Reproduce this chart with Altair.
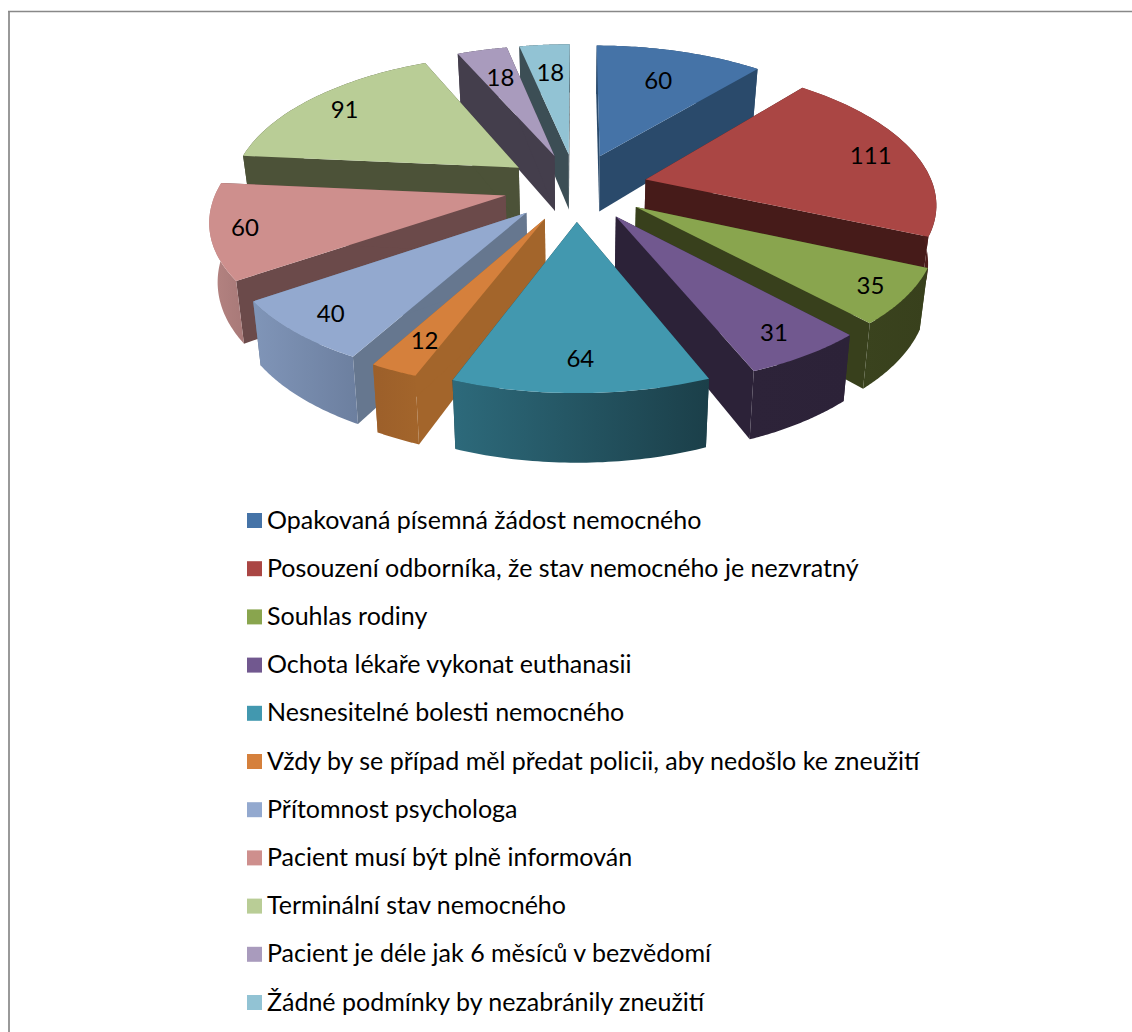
import math
import altair as alt

# Survey answers, clockwise from twelve o'clock
names = [
    "Opakovaná písemná žádost nemocného",
    "Posouzení odborníka, že stav nemocného je nezvratný",
    "Souhlas rodiny",
    "Ochota lékaře vykonat euthanasii",
    "Nesnesitelné bolesti nemocného",
    "Vždy by se případ měl předat policii, aby nedošlo ke zneužití",
    "Přítomnost psychologa",
    "Pacient musí být plně informován",
    "Terminální stav nemocného",
    "Pacient je déle jak 6 měsíců v bezvědomí",
    "Žádné podmínky by nezabránily zneužití",
]
values = [60, 111, 35, 31, 64, 12, 40, 60, 91, 18, 18]

top_colors = ["#4573A7", "#AA4644", "#89A54E", "#71588F", "#4298AF", "#D5803C",
              "#93A9CF", "#CE8F8D", "#B9CD96", "#A99BBD", "#92C3D4"]
wall_colors = ["#2A4A6B", "#461B19", "#38401C", "#2C2238", "#1C3F49", "#A3652B",
               "#66778F", "#6B4A4A", "#4C5238", "#443E4C", "#3C4E55"]
rim_left = ["#2A4A6B", "#7C3331", "#3A431E", "#2D2339", "#2D6A7B", "#9C5F2A",
            "#8095B8", "#B58482", "#4C5238", "#443E4C", "#3C4E55"]
rim_right = ["#2A4A6B", "#4A1C1A", "#38401C", "#2C2238", "#1B3F49", "#A3652B",
             "#6C7F9F", "#A87978", "#4C5238", "#443E4C", "#3C4E55"]

# Slices are painted far to near so nearer ones overlap the ones behind
paint_order = [0, 10, 9, 8, 1, 7, 2, 6, 3, 5, 4]
# How far along its radius each value label sits
label_reach = [0.70, 0.84, 0.88, 0.85, 0.82, 0.82, 0.86, 0.885, 0.836, 0.72, 0.73]

# Perspective view of the exploded pie
CX, CY = 576, 187
AX, AY = 288, 135
PERSP_X = 0.155
PERSP_Y = 0.145
EXPLODE = 0.25
DEPTH = 57
BASE_SHRINK = 0.977


def project(u, v, lower=False):
    x = AX * u / (1 + PERSP_X * v)
    w = 1 + PERSP_Y * v
    y = CY - AY * v / w
    if lower:
        return [CX + x * BASE_SHRINK, y + DEPTH / w]
    return [CX + x, y]


def ring(points):
    return {"type": "Polygon", "coordinates": [points + [points[0]]]}


def feature(geometry, name):
    return {"type": "Feature", "geometry": geometry, "properties": {"name": name}}


def geo_layer(features, **mark):
    return alt.Chart(alt.Data(values=features)).mark_geoshape(strokeWidth=0, **mark)


color_scale = alt.Scale(domain=names, range=top_colors)
legend = alt.Legend(
    title=None,
    orient="none",
    legendX=242,
    legendY=508,
    symbolType="square",
    symbolSize=225,
    symbolStrokeWidth=0,
    symbolOffset=0,
    labelFont="Lato",
    labelFontSize=25,
    labelColor="#000000",
    labelLimit=900,
    labelOffset=0,
    rowPadding=22.2,
    values=names,
)

total = sum(values)
spans = []
start = 0.0
for value in values:
    end = start + value / total * 2 * math.pi
    spans.append((start, end))
    start = end

label_rows = []
for i, (a0, a1) in enumerate(spans):
    mid = (a0 + a1) / 2
    au, av = EXPLODE * math.sin(mid), EXPLODE * math.cos(mid)
    reach = label_reach[i]
    lx, ly = project(au + reach * math.sin(mid), av + reach * math.cos(mid))
    label_rows.append({"x": lx, "y": ly, "text": str(values[i])})

layers = []
for i in paint_order:
    a0, a1 = spans[i]
    mid = (a0 + a1) / 2
    au, av = EXPLODE * math.sin(mid), EXPLODE * math.cos(mid)
    ground = []
    steps = 48
    for s in range(steps + 1):
        a = a0 + (a1 - a0) * s / steps
        ground.append((au + math.sin(a), av + math.cos(a)))
    top_arc = [project(u, v) for u, v in ground]
    low_arc = [project(u, v, lower=True) for u, v in ground]
    apex_top = project(au, av)
    apex_low = project(au, av, lower=True)

    walls = [
        feature(ring([apex_top, top_arc[0], low_arc[0], apex_low]), names[i]),
        feature(ring([apex_top, top_arc[-1], low_arc[-1], apex_low]), names[i]),
    ]
    layers.append(geo_layer(walls, fill=wall_colors[i]))

    # Rim shading runs left to right on screen
    rim_fill = alt.Gradient(
        gradient="linear", x1=0, x2=1, y1=0, y2=0,
        stops=[alt.GradientStop(color=rim_left[i], offset=0),
               alt.GradientStop(color=rim_right[i], offset=1)],
    )
    rim = feature(ring(top_arc + low_arc[::-1]), names[i])
    layers.append(geo_layer([rim], fill=rim_fill))

    top = feature(ring([apex_top] + top_arc), names[i])
    layers.append(
        geo_layer([top]).encode(
            color=alt.Color("properties.name:N", scale=color_scale, legend=legend)
        )
    )

labels = alt.Chart(alt.Data(values=label_rows)).mark_text(
    font="Lato", fontSize=24, color="#000000", align="center", baseline="middle", dy=2
).encode(longitude="x:Q", latitude="y:Q", text="text:N")

frame_left = alt.Chart(alt.Data(values=[{}])).mark_rule(color="#999999", strokeWidth=2).encode(
    x=alt.value(9), y=alt.value(11), y2=alt.value(1032)
)
frame_top = alt.Chart(alt.Data(values=[{}])).mark_rule(color="#888888", strokeWidth=1.5).encode(
    x=alt.value(8), x2=alt.value(1132), y=alt.value(11.5)
)

chart = alt.layer(frame_left, frame_top, *layers, labels).project(
    type="identity", scale=1, translate=[0, 0]
).properties(
    width=1132, height=1032, padding=0, autosize=alt.AutoSizeParams(type="none")
).configure_view(stroke=None)

chart.save("out.html", embed_options={"renderer": "svg", "actions": False})
